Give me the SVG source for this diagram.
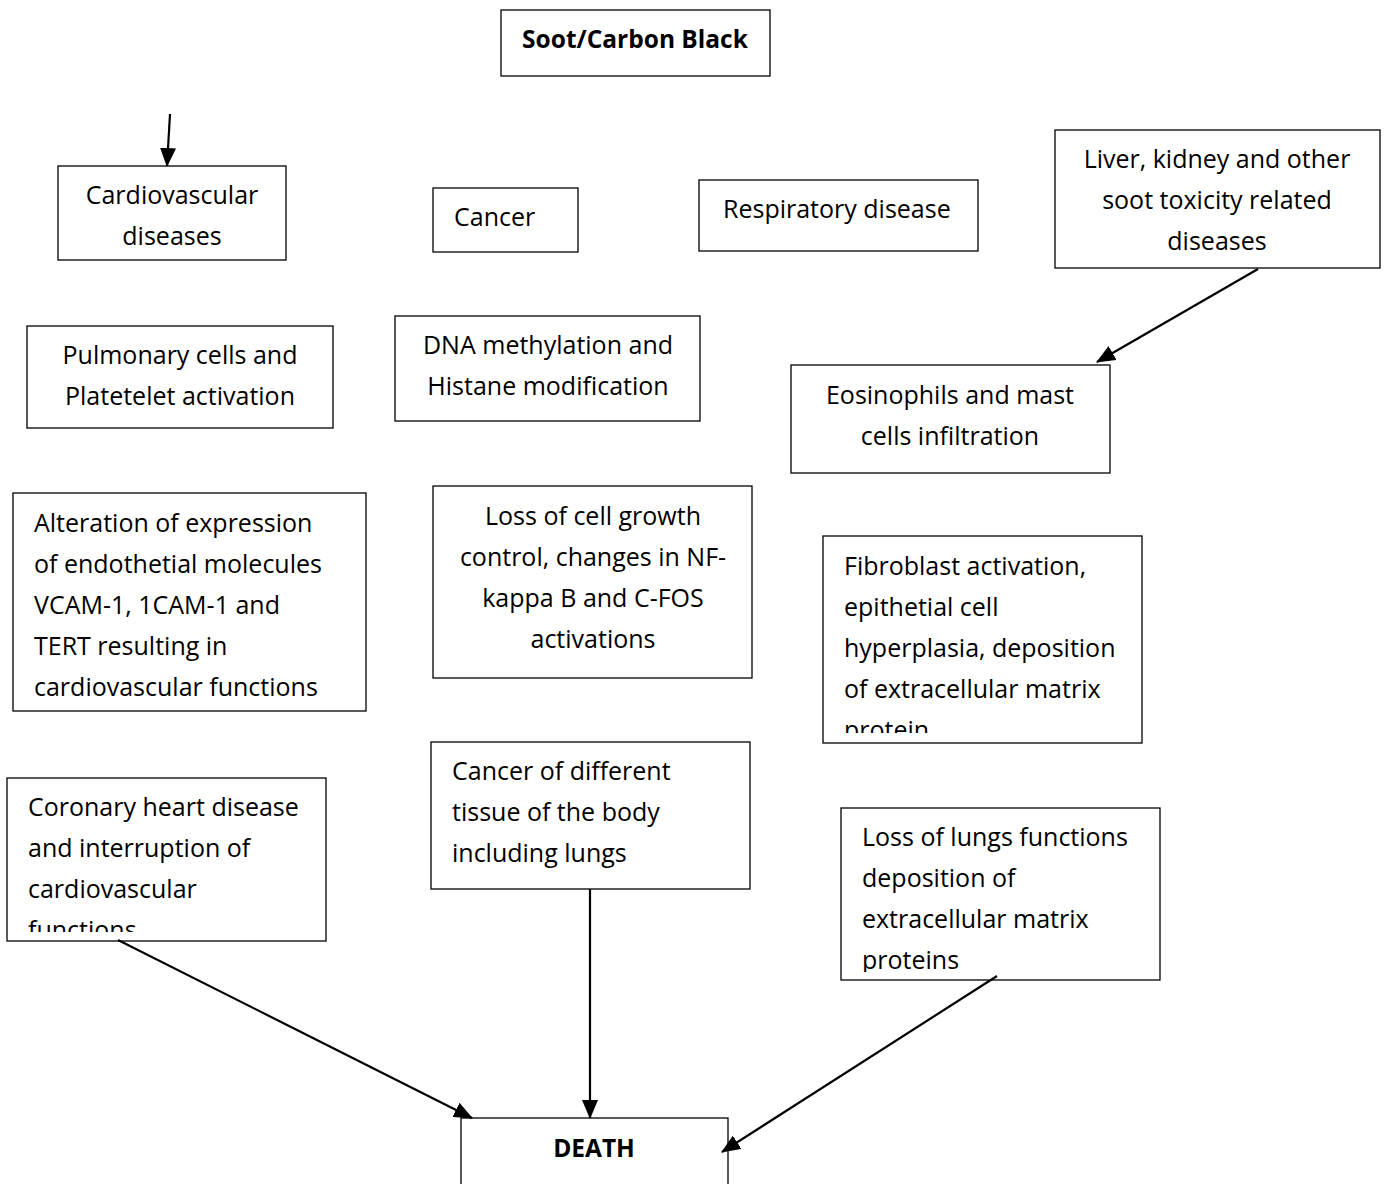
<svg xmlns="http://www.w3.org/2000/svg" width="1385" height="1184" viewBox="0 0 1385 1184">
<style>
rect.b{fill:#fff;stroke:#000;stroke-width:1.3}
text{font-family:"Open Sans","Liberation Sans",sans-serif;font-size:25px;fill:#000}
text.c{text-anchor:middle}
text.bold{font-weight:bold;font-size:24.5px;text-anchor:middle}
line.a{stroke:#000;stroke-width:2.2;marker-end:url(#ah)}
</style>
<defs>
<marker id="ah" markerWidth="20" markerHeight="16" refX="18" refY="8" orient="auto" markerUnits="userSpaceOnUse">
<path d="M0,0 L19,8 L0,16 Z" fill="#000"/>
</marker>
<clipPath id="cf"><rect x="823" y="536" width="320" height="197"/></clipPath>
<clipPath id="cc"><rect x="7" y="778" width="320" height="154"/></clipPath>
<clipPath id="cl"><rect x="841" y="808" width="320" height="164"/></clipPath>
</defs>
<rect width="1385" height="1184" fill="#fff"/>

<g id="soot"><rect class="b" x="501" y="10" width="269" height="66"/><text class="bold" x="635" y="48">Soot/Carbon Black</text></g>

<g id="cardio"><rect class="b" x="58" y="166" width="228" height="94"/><text class="c" x="172" y="204">Cardiovascular</text><text class="c" x="172" y="245">diseases</text></g>

<g id="cancer"><rect class="b" x="433" y="188" width="145" height="64"/><text x="454" y="226">Cancer</text></g>

<g id="resp"><rect class="b" x="699" y="180" width="279" height="71"/><text x="723" y="218">Respiratory disease</text></g>

<g id="liver"><rect class="b" x="1055" y="130" width="325" height="138"/><text class="c" x="1217" y="168">Liver, kidney and other</text><text class="c" x="1217" y="209">soot toxicity related</text><text class="c" x="1217" y="250">diseases</text></g>

<g id="pulm"><rect class="b" x="27" y="326" width="306" height="102"/><text class="c" x="180" y="364">Pulmonary cells and</text><text class="c" x="180" y="405">Platetelet activation</text></g>

<g id="dna"><rect class="b" x="395" y="316" width="305" height="105"/><text class="c" x="548" y="354">DNA methylation and</text><text class="c" x="548" y="395">Histane modification</text></g>

<g id="eos"><rect class="b" x="791" y="365" width="319" height="108"/><text class="c" x="950" y="404">Eosinophils and mast</text><text class="c" x="950" y="445">cells infiltration</text></g>

<g id="alter"><rect class="b" x="13" y="493" width="353" height="218"/>
<text x="34" y="532">Alteration of expression</text><text x="34" y="573">of endothetial molecules</text><text x="34" y="614">VCAM-1, 1CAM-1 and</text><text x="34" y="655">TERT resulting in</text><text x="34" y="696">cardiovascular functions</text></g>

<g id="loss"><rect class="b" x="433" y="486" width="319" height="192"/>
<text class="c" x="593" y="525">Loss of cell growth</text><text class="c" x="593" y="566">control, changes in NF-</text><text class="c" x="593" y="607">kappa B and C-FOS</text><text class="c" x="593" y="648">activations</text></g>

<g id="fibro"><rect class="b" x="823" y="536" width="319" height="207"/>
<g clip-path="url(#cf)"><text x="844" y="575">Fibroblast activation,</text><text x="844" y="616">epithetial cell</text><text x="844" y="657">hyperplasia, deposition</text><text x="844" y="698">of extracellular matrix</text><text x="844" y="739">protein</text></g></g>

<g id="coronary"><rect class="b" x="7" y="778" width="319" height="163"/>
<g clip-path="url(#cc)"><text x="28" y="816">Coronary heart disease</text><text x="28" y="857">and interruption of</text><text x="28" y="898">cardiovascular</text><text x="28" y="939">functions</text></g></g>

<g id="cancerdiff"><rect class="b" x="431" y="742" width="319" height="147"/>
<text x="452" y="780">Cancer of different</text><text x="452" y="821">tissue of the body</text><text x="452" y="862">including lungs</text></g>

<g id="lungs"><rect class="b" x="841" y="808" width="319" height="172"/>
<g clip-path="url(#cl)"><text x="862" y="846">Loss of lungs functions</text><text x="862" y="887">deposition of</text><text x="862" y="928">extracellular matrix</text><text x="862" y="969">proteins</text></g></g>

<g id="death"><rect class="b" x="461" y="1118" width="267" height="80"/><text class="bold" x="594" y="1157">DEATH</text></g>

<g id="connectors">
<line class="a" x1="170" y1="114" x2="167" y2="166"/>
<line class="a" x1="1258" y1="269" x2="1097" y2="362"/>
<line class="a" x1="118" y1="940" x2="472" y2="1118"/>
<line class="a" x1="590" y1="889" x2="590" y2="1118"/>
<line class="a" x1="997" y1="976" x2="722" y2="1152"/>
</g>
</svg>
